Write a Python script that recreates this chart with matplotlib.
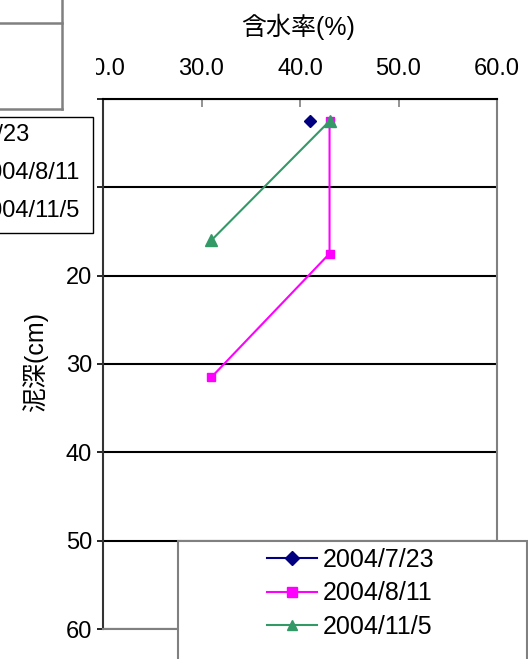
import matplotlib
matplotlib.use("Agg")
import matplotlib.pyplot as plt
from matplotlib.patches import Rectangle
from matplotlib.lines import Line2D

plt.rcParams['font.family'] = ['Liberation Sans', 'Noto Sans CJK JP', 'DejaVu Sans']

# 含水率(%) と 泥深(cm)
moist_0723 = [41.0]
depth_0723 = [2.5]

moist_0811 = [43.0, 43.0, 31.0]
depth_0811 = [2.5, 17.5, 31.5]

moist_1105 = [43.0, 31.0]
depth_1105 = [2.5, 16.0]

labels = ["2004/7/23", "2004/8/11", "2004/11/5"]
x_ticks = [20, 30, 40, 50, 60]
y_ticks = [0, 10, 20, 30, 40, 50, 60]

W, H = 528, 659
fig = plt.figure(figsize=(W / 100, H / 100), dpi=100)


def fx(px):
    return px / W


def fy(py):
    return 1 - py / H


ax = fig.add_axes([fx(103), fy(629), fx(497) - fx(103), fy(99) - fy(629)])

ax.plot(moist_0723, depth_0723, color="#000080", marker="D", markersize=6, lw=1.5, label=labels[0], zorder=3)
ax.plot(moist_0811, depth_0811, color="#FF00FF", marker="s", markersize=6, lw=1.5, label=labels[1], zorder=3)
ax.plot(moist_1105, depth_1105, color="#339966", marker="^", markersize=8, lw=1.5, label=labels[2], zorder=4)

ax.set_xlim(20, 60)
ax.set_ylim(60, 0)
ax.set_xticks(x_ticks)
ax.set_xticklabels([f"{v:.1f}" for v in x_ticks])
ax.set_yticks(y_ticks)
# 0 と 10 は左の凡例に隠れている
ax.set_yticklabels(["" if v < 20 else str(v) for v in y_ticks])
ax.xaxis.tick_top()
ax.tick_params(axis="x", direction="in", length=6, width=1.2, color="#808080",
               labelsize=17, pad=14)
ax.tick_params(axis="y", direction="out", length=4, width=1.2, labelsize=17, pad=4)
ax.yaxis.grid(True, color="black", lw=1.5)
ax.set_axisbelow(True)

ax.spines["top"].set_linewidth(1.5)
ax.spines["left"].set_linewidth(1.5)
ax.spines["left"].set_color("#333333")
for s in ["right", "bottom"]:
    ax.spines[s].set_color("#808080")
    ax.spines[s].set_linewidth(1.5)

fig.text(fx(298), fy(27), "含水率(%)", ha="center", va="center", fontsize=18)
fig.text(fx(35), fy(362), "泥深(cm)", ha="center", va="center", fontsize=18, rotation=90)

# 左上の白い覆いと灰色の枠
fig.add_artist(Rectangle((0, fy(111)), fx(96), 1 - fy(111), transform=fig.transFigure,
                         facecolor="white", edgecolor="none", zorder=10))
for xs, ys in [([0, 62], [23, 23]), ([0, 62], [109, 109]), ([62, 62], [0, 109])]:
    fig.add_artist(Line2D([fx(v) for v in xs], [fy(v) for v in ys], transform=fig.transFigure,
                          color="#808080", lw=1.8, zorder=11))

# 左側の切れた凡例
fig.add_artist(Rectangle((fx(-2), fy(233)), fx(95), fy(117) - fy(233), transform=fig.transFigure,
                         facecolor="white", edgecolor="black", lw=1.0, zorder=12))
for txt, x_end, y_c in [(labels[0], 30, 135), (labels[1], 80, 173), (labels[2], 80, 211)]:
    fig.text(fx(x_end), fy(y_c), txt, ha="right", va="center", fontsize=17, zorder=13)

# 右下の凡例
fig.add_artist(Rectangle((fx(178), fy(680)), fx(527) - fx(178), fy(541) - fy(680),
                         transform=fig.transFigure, facecolor="white", edgecolor="#808080",
                         lw=1.5, zorder=12))
leg = fig.legend(loc="upper left", bbox_to_anchor=(fx(267), fy(548)), frameon=False,
                 fontsize=18, handlelength=2.0, handletextpad=0.25, labelspacing=0.38,
                 borderpad=0, borderaxespad=0)
leg.set_zorder(14)
for h in leg.legend_handles:
    h.set_markersize(7)

fig.savefig("out.png", dpi=100)
